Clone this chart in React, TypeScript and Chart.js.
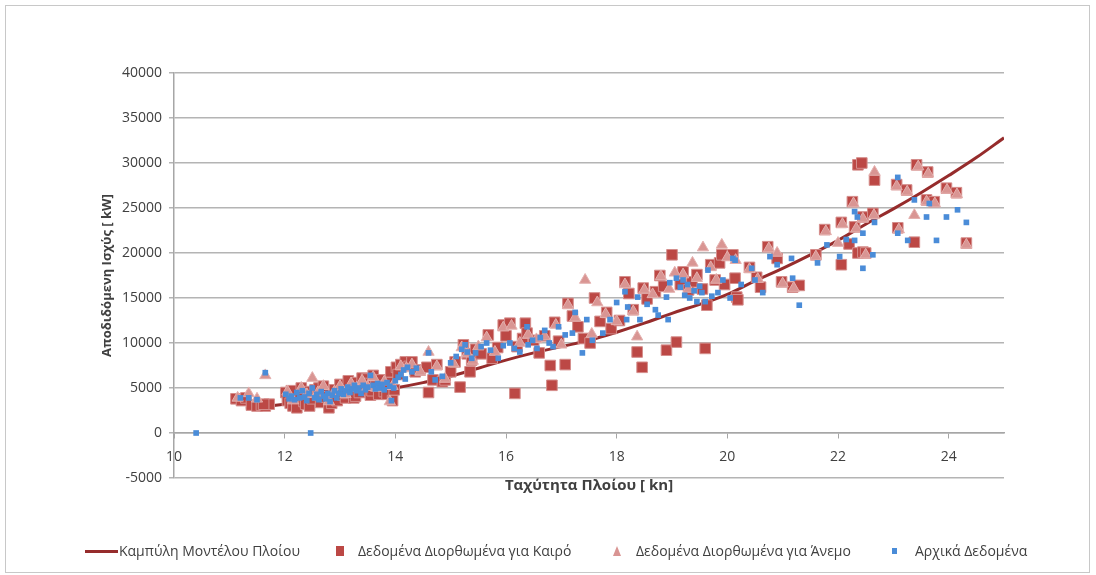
import { useEffect, useRef } from "react";
import { Chart, registerables } from "chart.js";

Chart.register(...registerables);

// Axis ticks
const xTicks = [10, 12, 14, 16, 18, 20, 22, 24];
const yTicks = [-5000, 0, 5000, 10000, 15000, 20000, 25000, 30000, 35000, 40000];

// Ship model curve: speed [kn] -> delivered power [kW]
const modelCurve: [number, number][] = [
  [11.3, 2700], [11.6, 2900], [12, 3200], [12.5, 3600], [13, 4100], [13.5, 4500],
  [14, 5000], [14.5, 5600], [15, 6300], [15.5, 7200], [16, 8100], [16.5, 8900],
  [17, 9600], [17.5, 10300], [18, 11200], [18.5, 12200], [19, 13300], [19.5, 14300],
  [20, 15400], [20.5, 16900], [21, 18300], [21.5, 19800], [22, 21400], [22.5, 23200],
  [23, 24900], [23.5, 26700], [24, 28600], [24.5, 30600], [25, 32800],
];

// Data corrected for weather
const weatherCorrected: [number, number][] = [
  [11.12, 3800], [11.22, 3600], [11.3, 3900], [11.4, 3100], [11.5, 3000], [11.58, 3100],
  [11.65, 3000], [11.72, 3200], [11.62, 3200],
  [12.02, 4500], [12.05, 3600], [12.1, 3300], [12.12, 4700], [12.15, 3000], [12.22, 2800],
  [12.28, 4000], [12.3, 5000], [12.35, 3500], [12.38, 3200], [12.42, 4600], [12.45, 3000],
  [12.5, 3800], [12.55, 4800], [12.6, 4200], [12.62, 5000], [12.65, 3400], [12.7, 5200],
  [12.75, 4000], [12.8, 2800], [12.85, 3300], [12.88, 4100], [12.9, 4800], [12.95, 3600],
  [13.0, 5400], [13.05, 4200], [13.1, 3900], [13.12, 4400], [13.15, 5800], [13.2, 4600],
  [13.25, 3900], [13.28, 4100], [13.3, 5600], [13.35, 4500], [13.4, 6100], [13.45, 4800],
  [13.48, 6000], [13.5, 5500], [13.55, 4200], [13.58, 4700], [13.6, 6400], [13.65, 5200],
  [13.7, 4300], [13.75, 5900], [13.78, 5200], [13.8, 4600], [13.85, 4300], [13.9, 5600],
  [13.92, 6800], [13.95, 3600], [13.98, 4800],
  [14.02, 7300], [14.05, 6500], [14.1, 7600], [14.18, 7900], [14.25, 7400], [14.3, 7900],
  [14.36, 6800], [14.45, 7000], [14.57, 7300], [14.6, 4500], [14.68, 5900], [14.75, 7600],
  [14.85, 5700], [14.9, 5900], [15.0, 6800], [15.08, 7900], [15.17, 5100], [15.23, 9800],
  [15.3, 8800], [15.35, 6800], [15.38, 8100], [15.45, 9300], [15.55, 8800], [15.68, 10900],
  [15.75, 8300], [15.85, 9500], [15.95, 12000], [16.0, 10800], [16.07, 12200], [16.16, 4400],
  [16.2, 9600], [16.3, 10500], [16.35, 12200], [16.38, 11100], [16.5, 10300], [16.6, 8900],
  [16.7, 10800], [16.8, 7500], [16.83, 5300], [16.88, 12300], [16.95, 10200], [17.07, 7600],
  [17.12, 14400],
  [17.2, 13000], [17.3, 11800], [17.4, 10500], [17.52, 10000], [17.6, 15000], [17.7, 12400],
  [17.82, 13400], [17.9, 11600], [18.05, 12500], [18.15, 16800], [18.22, 15500], [18.3, 13700],
  [18.37, 9000], [18.46, 7300], [18.48, 16100], [18.55, 14900], [18.7, 15700], [18.78, 17500],
  [18.85, 16300], [18.9, 9200], [19.0, 19800], [19.08, 10100], [19.15, 16500], [19.2, 17900],
  [19.3, 15900], [19.36, 16800], [19.45, 17600], [19.55, 16000], [19.6, 9400], [19.63, 14200],
  [19.7, 18700], [19.78, 17000], [19.86, 18900], [19.9, 19800], [19.95, 16500], [20.1, 19800],
  [20.17, 15100],
  [20.14, 17200], [20.19, 14800], [20.4, 18400], [20.53, 17300], [20.6, 16200], [20.73, 20700],
  [20.9, 19400], [20.98, 16800], [21.18, 16200], [21.3, 16400], [21.6, 19800], [21.76, 22600],
  [22.06, 23400], [22.06, 18700], [22.2, 21000], [22.26, 25700], [22.3, 22900], [22.36, 29800],
  [22.36, 20000], [22.43, 30000], [22.45, 24000], [22.45, 20100], [22.5, 20000],
  [22.63, 24400], [22.66, 28100], [23.06, 27600], [23.08, 22800], [23.24, 27000], [23.38, 21200],
  [23.42, 29800], [23.6, 25900], [23.62, 29000], [23.74, 25700], [23.96, 27200], [24.14, 26700],
  [24.32, 21100],
];

// Data corrected for wind
const windCorrected: [number, number][] = [
  [11.15, 3900], [11.35, 4400], [11.5, 3800], [11.65, 6400], [12.05, 4600], [12.15, 3600],
  [12.3, 5000], [12.4, 4300], [12.5, 6100], [12.6, 4500], [12.7, 5200], [12.8, 3500],
  [12.9, 4600], [13.0, 5200], [13.1, 4300], [13.2, 5500], [13.3, 5000], [13.4, 5800],
  [13.5, 5100], [13.6, 6200], [13.7, 5000], [13.8, 5700], [13.9, 3500], [13.95, 5200],
  [14.1, 7400], [14.2, 7200], [14.3, 7600], [14.45, 6800], [14.6, 9000], [14.75, 7400],
  [14.9, 6000], [15.05, 7700], [15.2, 9500], [15.3, 8800], [15.4, 8000], [15.5, 9600],
  [15.65, 10600], [15.8, 9000], [15.95, 11700], [16.1, 11900], [16.25, 10000], [16.4, 10900],
  [16.55, 10400], [16.7, 10700], [16.9, 12000], [17.0, 9800], [17.12, 14200], [17.25, 12800],
  [17.43, 17000], [17.55, 11000], [17.65, 14500], [17.8, 13200], [18.0, 12400], [18.15, 16500],
  [18.3, 13500], [18.37, 10700], [18.5, 15900], [18.65, 15400], [18.8, 17400], [18.95, 16000],
  [19.05, 17800], [19.2, 17600], [19.3, 16000], [19.37, 18900], [19.45, 17200], [19.56, 20600],
  [19.7, 18400], [19.8, 17000], [19.9, 20900], [20.0, 19500], [20.15, 19200], [20.4, 18200],
  [20.55, 17100], [20.75, 20500], [20.9, 20000], [21.0, 16600], [21.2, 16100], [21.6, 19600],
  [21.78, 22400], [22.0, 21100], [22.08, 23200], [22.28, 25500], [22.33, 22700], [22.45, 23800],
  [22.5, 19800], [22.66, 29000], [22.65, 24200], [23.06, 27400], [23.1, 22600], [23.25, 26800],
  [23.38, 24200], [23.45, 29600], [23.6, 25700], [23.63, 28800], [23.75, 25500], [23.97, 27000],
  [24.15, 26500], [24.32, 20900],
];

// Original measured data
const rawData: [number, number][] = [
  [10.4, 0], [12.47, 0], [11.2, 3900], [11.35, 3900], [11.5, 3700], [11.65, 6700],
  [12.02, 4300], [12.08, 3800], [12.12, 4100], [12.18, 3700], [12.22, 4500], [12.27, 3900],
  [12.32, 4700], [12.36, 4000], [12.4, 3600], [12.44, 4400], [12.5, 5000], [12.54, 3900],
  [12.58, 4300], [12.62, 3700], [12.66, 4600], [12.7, 4100], [12.74, 3800], [12.78, 4400],
  [12.82, 3500], [12.86, 4200], [12.9, 4700], [12.94, 3900], [12.98, 4400], [13.02, 4900],
  [13.06, 4300], [13.1, 4700], [13.14, 5100], [13.18, 4500], [13.22, 4900], [13.26, 5300],
  [13.3, 4700], [13.34, 5000], [13.38, 4400], [13.42, 5300], [13.46, 4800], [13.5, 5100],
  [13.55, 6400], [13.6, 5300], [13.64, 4900], [13.68, 5500], [13.72, 5000], [13.76, 5400],
  [13.8, 4800], [13.85, 5600], [13.9, 5200], [13.93, 3600], [13.97, 5000],
  [14.0, 5800], [14.05, 6200], [14.1, 6500], [14.15, 7000], [14.18, 6000], [14.22, 7300],
  [14.3, 6800], [14.38, 7200], [14.6, 8900], [14.65, 6800], [14.72, 5900], [14.85, 6300],
  [15.0, 7800], [15.1, 8500], [15.2, 9300], [15.26, 9800], [15.3, 9000], [15.38, 8300],
  [15.45, 8900], [15.55, 9600], [15.65, 10000], [15.72, 9200], [15.86, 8300], [15.95, 9700],
  [16.07, 10000], [16.15, 9400], [16.25, 9000], [16.38, 11800], [16.4, 9800], [16.48, 10300],
  [16.56, 9400], [16.62, 10600], [16.7, 11400], [16.78, 10000], [16.85, 9600], [16.95, 11800],
  [17.07, 10900], [17.2, 11100],
  [17.25, 13400], [17.38, 8900], [17.46, 12600], [17.56, 10300], [17.75, 11100], [17.88, 12600],
  [18.0, 14500], [18.15, 15700], [18.18, 12600], [18.2, 14000], [18.38, 15100], [18.42, 12600],
  [18.55, 14300], [18.7, 13700], [18.75, 13100], [18.9, 15100], [18.93, 12600], [18.96, 16700],
  [19.08, 17200], [19.15, 16200], [19.2, 17000], [19.23, 15300], [19.28, 16500], [19.32, 15000],
  [19.4, 15800], [19.45, 14600], [19.5, 16300], [19.54, 15600], [19.6, 14600], [19.65, 18100],
  [19.72, 15200], [19.83, 15600], [19.92, 17000], [20.05, 15000], [20.1, 19400],
  [20.14, 19200], [20.25, 16500], [20.44, 18300], [20.5, 17000], [20.64, 15600], [20.77, 19600],
  [20.9, 18700], [21.16, 19400], [21.18, 17200], [21.3, 14200], [21.63, 18900], [21.8, 20900],
  [22.03, 19600], [22.15, 21500], [22.3, 24600], [22.35, 24000], [22.3, 21400], [22.45, 22200],
  [22.45, 18300], [22.63, 19800], [22.66, 23400], [23.08, 28400], [23.08, 22200], [23.26, 21400],
  [23.38, 25900], [23.6, 24000], [23.65, 25500], [23.78, 21400], [23.96, 24000], [24.16, 24800],
  [24.32, 23400],
];

const seriesNames = [
  "Καμπύλη Μοντέλου Πλοίου",
  "Δεδομένα Διορθωμένα για Καιρό",
  "Δεδομένα Διορθωμένα για Άνεμο",
  "Αρχικά Δεδομένα",
];
const xTitle = "Ταχύτητα Πλοίου [ kn]";
const yTitle = "Αποδιδόμενη Ισχύς [ kW]";

const FONT = '"Open Sans", "DejaVu Sans", sans-serif';
const TEXT = "#404040";
const COLORS = {
  curve: "#962C2C",
  weather: "#BC4845",
  weatherEdge: "#D58E8C",
  wind: "#D99593",
  windEdge: "#E4B0AE",
  raw: "#4A8CD8",
};

const toPoints = (arr: [number, number][]) => arr.map(([x, y]) => ({ x, y }));

function LegendMarker({ kind }: { kind: number }) {
  if (kind === 0) {
    return <div style={{ width: 33, height: 3, background: COLORS.curve }} />;
  }
  if (kind === 1) {
    return <div style={{ width: 8, height: 10, background: COLORS.weather }} />;
  }
  if (kind === 2) {
    return (
      <div
        style={{
          width: 0,
          height: 0,
          borderLeft: "4px solid transparent",
          borderRight: "4px solid transparent",
          borderBottom: `10px solid ${COLORS.wind}`,
        }}
      />
    );
  }
  return <div style={{ width: 5, height: 6, background: COLORS.raw }} />;
}

const legendMarkerLeft = [85, 336, 613, 892];
const legendTextLeft = [119, 358, 636, 915];

export default function App() {
  const ref = useRef<HTMLCanvasElement>(null);

  useEffect(() => {
    const chart = new Chart(ref.current!, {
      type: "scatter",
      data: {
        datasets: [
          {
            label: seriesNames[0],
            data: toPoints(modelCurve),
            showLine: true,
            borderColor: COLORS.curve,
            backgroundColor: COLORS.curve,
            borderWidth: 3,
            pointRadius: 0,
            tension: 0.4,
            order: 4,
          },
          {
            label: seriesNames[1],
            data: toPoints(weatherCorrected),
            pointStyle: "rect",
            pointRadius: 7.5,
            backgroundColor: COLORS.weather,
            borderColor: COLORS.weatherEdge,
            borderWidth: 1,
            order: 3,
          },
          {
            label: seriesNames[2],
            data: toPoints(windCorrected),
            pointStyle: "triangle",
            pointRadius: 6.5,
            backgroundColor: COLORS.wind,
            borderColor: COLORS.windEdge,
            borderWidth: 1,
            order: 2,
          },
          {
            label: seriesNames[3],
            data: toPoints(rawData),
            pointStyle: "rect",
            pointRadius: 4,
            backgroundColor: COLORS.raw,
            borderColor: COLORS.raw,
            borderWidth: 0,
            order: 1,
          },
        ],
      },
      options: {
        responsive: false,
        animation: false,
        devicePixelRatio: 1,
        layout: { padding: { left: 99, top: 73, right: 92, bottom: 97 } },
        plugins: {
          legend: { display: false },
          tooltip: { enabled: false },
        },
        scales: {
          x: {
            type: "linear",
            position: { y: 0 } as any,
            min: 10,
            max: 25,
            afterBuildTicks: (s: any) => {
              s.ticks = xTicks.map((v) => ({ value: v }));
            },
            grid: {
              drawOnChartArea: false,
              drawTicks: true,
              tickLength: 5,
              color: "#a6a6a6",
              lineWidth: 1,
            },
            border: { display: true, color: "#a6a6a6", width: 1.5 },
            ticks: {
              color: TEXT,
              font: { family: FONT, size: 14 },
              padding: 11,
              maxRotation: 0,
              autoSkip: false,
              callback: (v: any) => String(v),
            },
            title: {
              display: true,
              text: xTitle,
              color: TEXT,
              font: { family: FONT, size: 15, weight: "bold" },
              padding: { top: 0, bottom: 0 },
            },
          },
          y: {
            type: "linear",
            position: "left",
            min: -5000,
            max: 40000,
            afterBuildTicks: (s: any) => {
              s.ticks = yTicks.map((v) => ({ value: v }));
            },
            afterFit: (s: any) => {
              s.width = 75;
            },
            grid: { color: "#b4b4b4", lineWidth: 1.5, tickLength: 5 },
            border: { display: true, color: "#a6a6a6", width: 1.5 },
            ticks: {
              color: TEXT,
              font: { family: FONT, size: 14 },
              padding: 7,
              callback: (v: any) => String(v),
            },
            title: {
              display: true,
              text: yTitle,
              color: TEXT,
              font: { family: FONT, size: 13, weight: "bold" },
              padding: { top: 0, bottom: 0 },
            },
          },
        },
      },
    });
    return () => chart.destroy();
  }, []);

  return (
    <div
      style={{
        position: "absolute",
        left: 0,
        top: 0,
        width: 1096,
        height: 575,
        background: "#ffffff",
        overflow: "hidden",
        fontFamily: FONT,
      }}
    >
      <div
        style={{
          position: "absolute",
          left: 5,
          top: 5,
          width: 1083,
          height: 566,
          border: "1px solid #c8c8c8",
        }}
      />
      <canvas
        ref={ref}
        width={1096}
        height={575}
        style={{ position: "absolute", left: 0, top: 0, width: 1096, height: 575 }}
      />
      {seriesNames.map((name, i) => (
        <div key={name}>
          <div
            style={{
              position: "absolute",
              left: legendMarkerLeft[i],
              top: 545,
              height: 12,
              display: "flex",
              alignItems: "center",
            }}
          >
            <LegendMarker kind={i} />
          </div>
          <div
            style={{
              position: "absolute",
              left: legendTextLeft[i],
              top: 541,
              fontSize: 14,
              lineHeight: "20px",
              color: TEXT,
              whiteSpace: "nowrap",
            }}
          >
            {name}
          </div>
        </div>
      ))}
    </div>
  );
}
